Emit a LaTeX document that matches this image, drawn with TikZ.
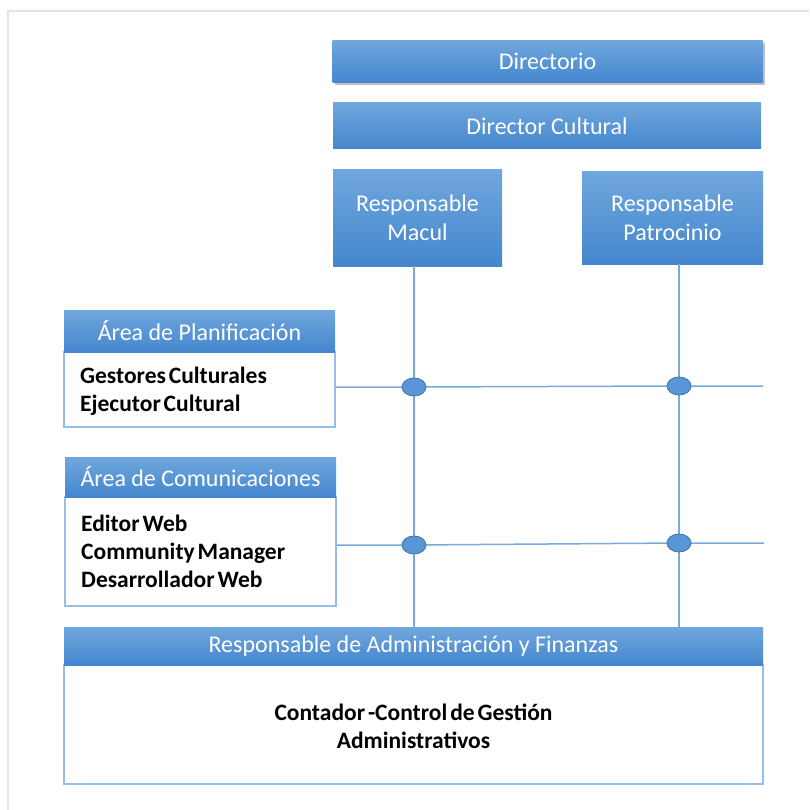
\documentclass[tikz,border=0pt]{standalone}
\usepackage{fontspec}
\setmainfont{Carlito}
\newfontfamily\bodyf[WordSpace=0.55]{Carlito}
\usetikzlibrary{shadows,shapes.geometric}
\definecolor{btop}{RGB}{112,167,221}
\definecolor{bbot}{RGB}{68,134,206}
\definecolor{lnc}{RGB}{120,170,222}
\definecolor{bodyb}{RGB}{150,190,232}
\definecolor{dotf}{RGB}{88,150,214}
\definecolor{dotb}{RGB}{65,113,170}
\definecolor{framec}{RGB}{228,228,228}
\tikzset{
  hdr/.style={rectangle, top color=btop, bottom color=bbot, draw=none, text=white,
    font=\fontsize{24}{29}\selectfont, align=center, inner sep=0pt},
  bodybox/.style={rectangle, fill=white, draw=bodyb, line width=1.5pt, inner sep=0pt},
  bodytxt/.style={font=\bodyf\bfseries\fontsize{23.5}{28}\selectfont, text=black, inner sep=0pt},
  ln/.style={draw=lnc, line width=1.5pt},
  jdot/.style={ellipse, fill=dotf, draw=dotb, line width=0.8pt, minimum width=24pt, minimum height=18pt, inner sep=0pt},
}
\begin{document}
\begin{tikzpicture}[x=1pt,y=-1pt]
\useasboundingbox (0,0) rectangle (809,810);
\fill[white] (0,0) rectangle (809,810);
% frame
\draw[framec, line width=1.5pt] (8,810) -- (8,11) -- (809,11);
% top boxes
\node[hdr, minimum width=430pt, minimum height=42pt, drop shadow={shadow xshift=2pt, shadow yshift=-3pt, opacity=0.5}] (dir) at (547.5,61.5) {Directorio};
\node[hdr, minimum width=428pt, minimum height=46pt] (dc) at (547,126) {Director Cultural};
\node[hdr, minimum width=169pt, minimum height=96pt] (mac) at (417.5,218) {Responsable\\Macul};
\node[hdr, minimum width=181pt, minimum height=92pt] (pat) at (672.5,218) {Responsable\\Patrocinio};
% left area boxes
\node[bodybox, minimum width=271pt, minimum height=75pt] (planb) at (199.5,389.5) {};
\node[hdr, minimum width=271pt, minimum height=42pt] (plan) at (199.5,331) {Área de Planificación};
\node[bodytxt, anchor=base west, align=left] (plant) at (80,411) {Gestores Culturales\\Ejecutor Cultural};
\node[bodybox, minimum width=271pt, minimum height=109pt] (comb) at (200.5,551.5) {};
\node[hdr, minimum width=271pt, minimum height=40pt] (com) at (200.5,477) {Área de Comunicaciones};
\node[bodytxt, anchor=base west, align=left] (comt) at (81,587) {Editor Web\\Community Manager\\Desarrollador Web};
% admin
\node[bodybox, minimum width=699pt, minimum height=119pt] (admb) at (413.5,724.5) {};
\node[hdr, minimum width=699pt, minimum height=38pt] (adm) at (413.5,646) {Responsable de Administración y Finanzas};
\node[bodytxt, align=center] (admt) at (413.5,726) {Contador -Control de Gestión\\Administrativos};
% junction coordinates
\coordinate (j11) at (414,387);
\coordinate (j12) at (679,386);
\coordinate (j21) at (414,545);
\coordinate (j22) at (679,543);
\coordinate (r1) at (763,386);
\coordinate (r2) at (764,543);
% connectors
\draw[ln] (mac.south -| j11) -- (j11) -- (j21) -- (adm.north -| j21);
\draw[ln] (pat.south -| j12) -- (j12) -- (j22) -- (adm.north -| j22);
\draw[ln] (planb.east |- j11) -- (j11) -- (j12) -- (r1);
\draw[ln] (comb.east |- j21) -- (j21) -- (j22) -- (r2);
% dots
\node[jdot] (d11) at (j11) {};
\node[jdot] (d12) at (j12) {};
\node[jdot] (d21) at (j21) {};
\node[jdot] (d22) at (j22) {};
\end{tikzpicture}
\end{document}
